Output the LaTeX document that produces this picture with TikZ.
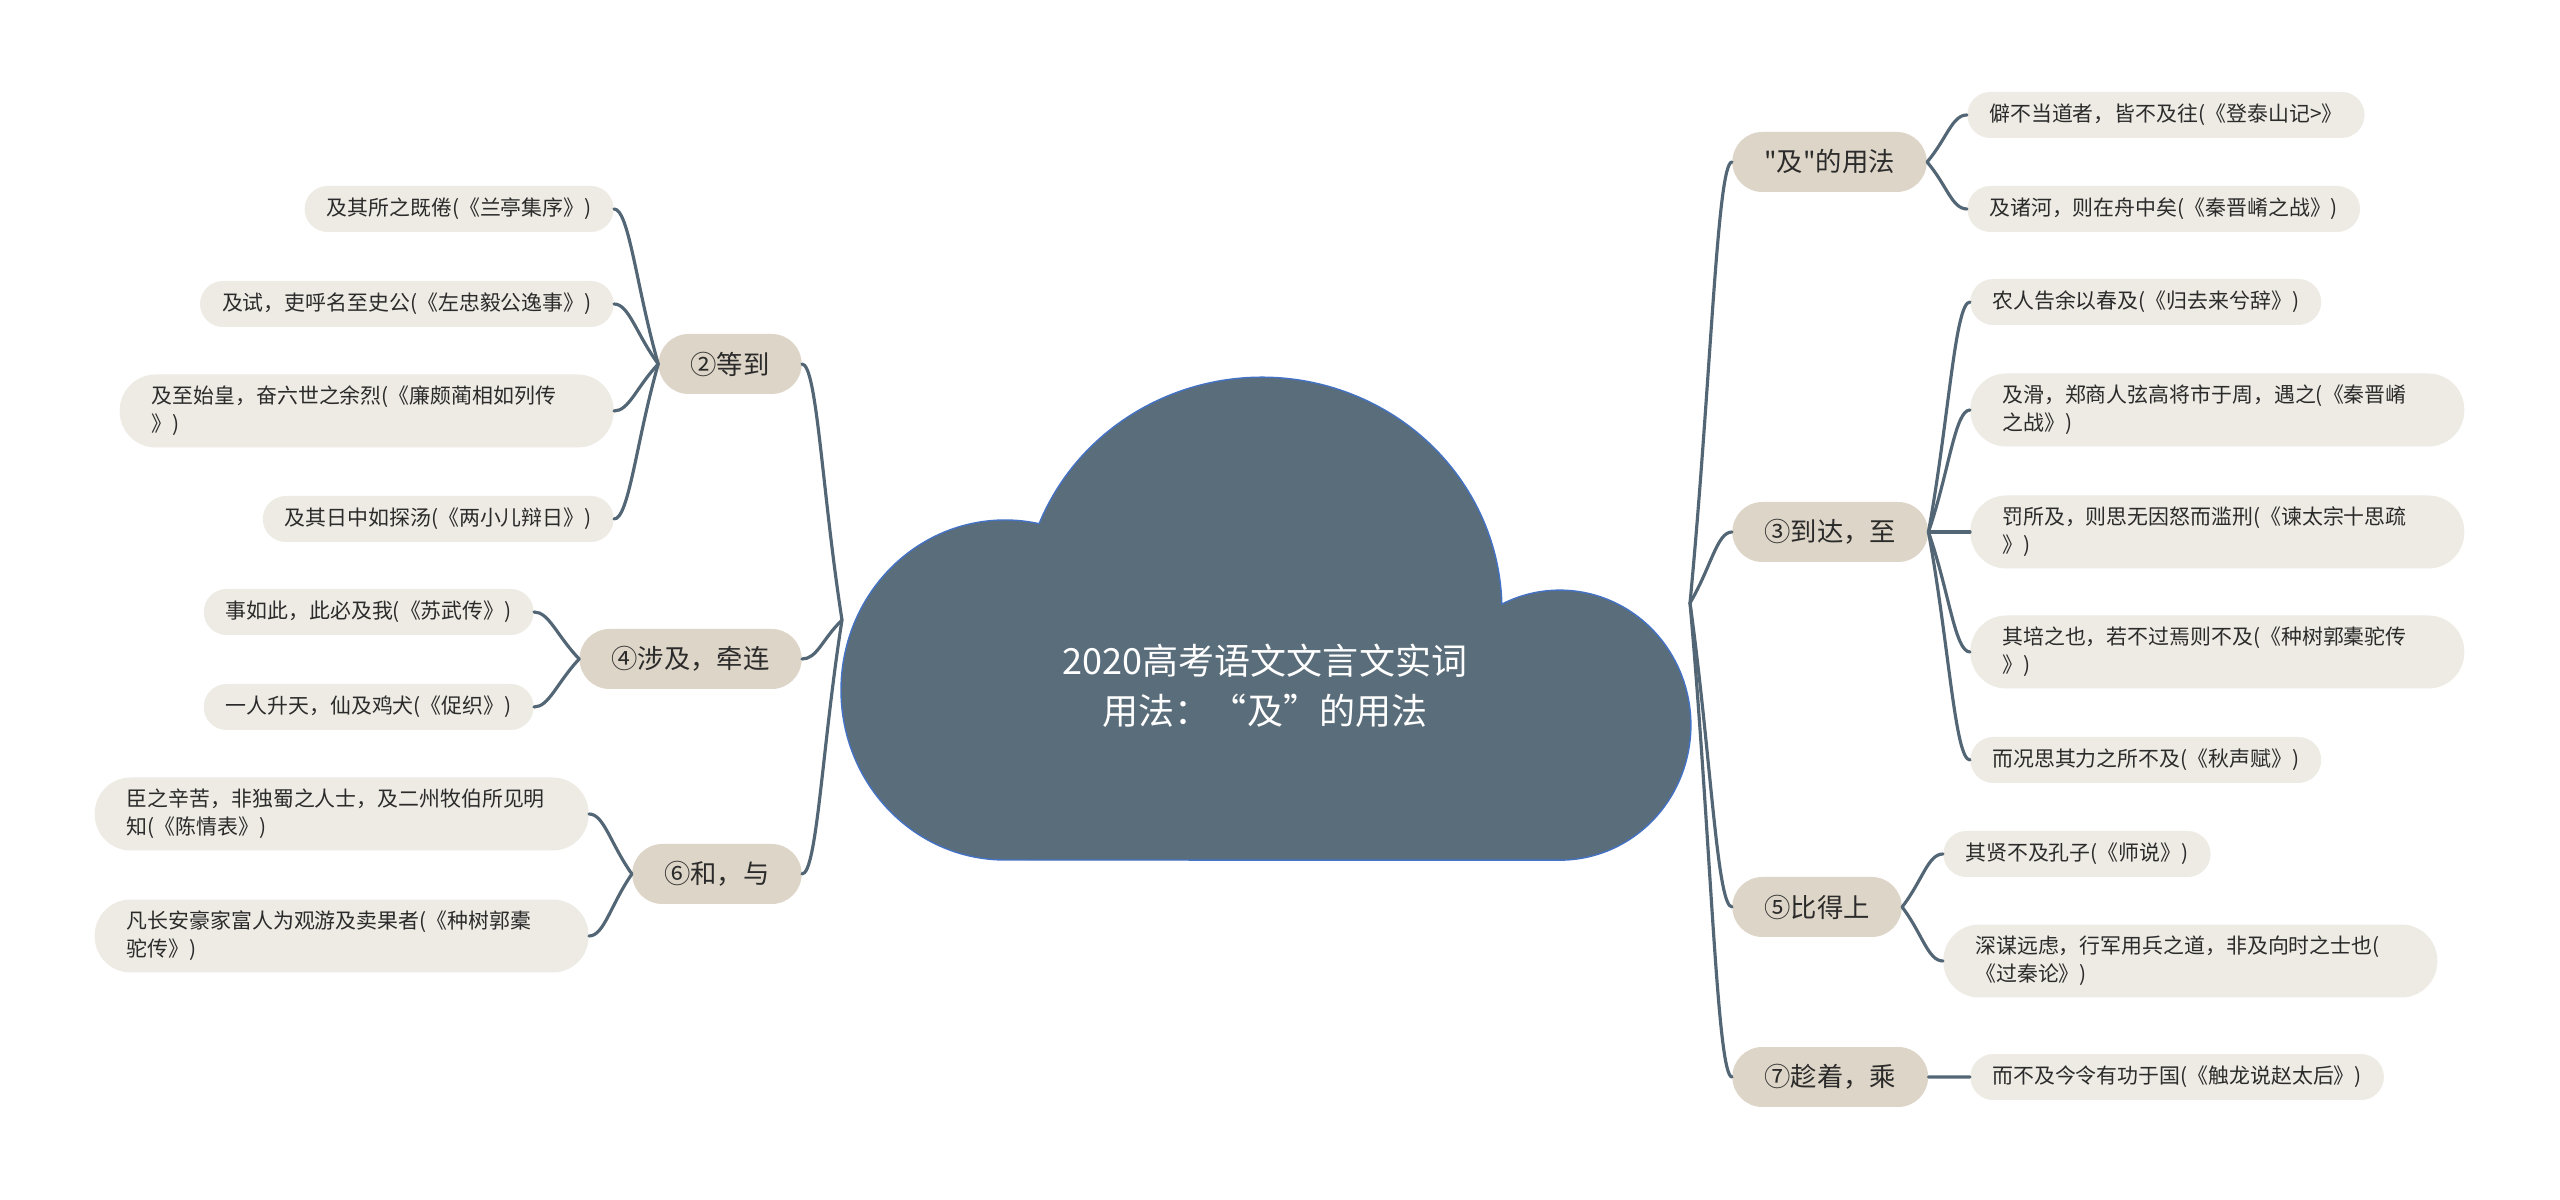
\documentclass[tikz,border=0pt]{standalone}
\usepackage{fontspec}
\setmainfont{Noto Sans CJK SC}[Ligatures=TeXOff]
\usetikzlibrary{calc}

\definecolor{slate}{HTML}{5A6D7A}
\definecolor{cloudedge}{HTML}{4472C4}
\definecolor{linkgray}{HTML}{536675}
\definecolor{branchfill}{HTML}{DDD5C7}
\definecolor{leaffill}{HTML}{EEEBE4}
\definecolor{ink}{HTML}{2B2B2B}

\begin{document}
\begin{tikzpicture}[
    x=0.02cm, y=0.02cm,
    every node/.style={text=ink},
    branch/.style={fill=branchfill, rounded corners=0.6cm, minimum height=1.2cm, inner xsep=0.64cm, font=\fontsize{15}{18}\selectfont},
    leaf/.style={fill=leaffill, rounded corners=0.46cm, minimum height=0.92cm, inner xsep=0.44cm, font=\fontsize{11.9}{16}\selectfont},
    long leaf/.style={leaf, rounded corners=0.72cm, minimum height=1.46cm, inner xsep=0.64cm, text width=8.6cm, align=left},
    wire/.style={draw=linkgray, line width=1.8pt, line cap=round},
    left link/.style={wire, to path={.. controls ($(\tikztostart)!0.5!(\tikztotarget)$) and ([xshift=0.3cm]\tikztotarget) .. (\tikztotarget)}},
    right link/.style={wire, to path={.. controls ($(\tikztostart)!0.5!(\tikztotarget)$) and ([xshift=-0.3cm]\tikztotarget) .. (\tikztotarget)}}
  ]
    \fill[white] (0,0) rectangle (2560,1200);

    % cloud made of three bumps on a flat bottom
    \filldraw[fill=slate, draw=cloudedge, line width=0.8pt]
      (1005,340) arc[start angle=270, end angle=78, x radius=164, y radius=170]
      arc[start angle=158.2, end angle=1.5, x radius=240, y radius=233]
      arc[start angle=116.3, end angle=-90, x radius=131, y radius=135] -- cycle;
    \node[font=\fontsize{20.5}{28.4}\selectfont, text=white, align=center] (root) at (1265,514) {2020高考语文文言文实词\\用法：“及”的用法};

    \coordinate (hubL) at (842,580);
    \coordinate (hubR) at (1690,597);

    % left branches
    \node[branch, anchor=east] (deng) at (802,836) {②等到};
    \node[branch, anchor=east] (she) at (802,541) {④涉及，牵连};
    \node[branch, anchor=east] (he) at (802,326) {⑥和，与};

    \node[leaf, anchor=east] (lanting) at (614,991) {及其所之既倦(《兰亭集序》)};
    \node[leaf, anchor=east] (zuo) at (614,896) {及试，吏呼名至史公(《左忠毅公逸事》)};
    \node[long leaf, anchor=east] (lian) at (614,789) {及至始皇，奋六世之余烈(《廉颇蔺相如列传\\》)};
    \node[leaf, anchor=east] (liangxiao) at (614,681) {及其日中如探汤(《两小儿辩日》)};

    \node[leaf, anchor=east] (suwu) at (534,588) {事如此，此必及我(《苏武传》)};
    \node[leaf, anchor=east] (cuzhi) at (534,493) {一人升天，仙及鸡犬(《促织》)};

    \node[long leaf, anchor=east] (chenqing) at (589,386) {臣之辛苦，非独蜀之人士，及二州牧伯所见明\\知(《陈情表》)};
    \node[long leaf, anchor=east] (guotuo) at (589,264) {凡长安豪家富人为观游及卖果者(《种树郭橐\\驼传》)};

    % right branches
    \node[branch, anchor=west] (ji) at (1732,1038) {"及"的用法};
    \node[branch, anchor=west] (dao) at (1732,668) {③到达，至};
    \node[branch, anchor=west] (bi) at (1732,293) {⑤比得上};
    \node[branch, anchor=west] (chen) at (1732,123) {⑦趁着，乘};

    \node[leaf, anchor=west] (taishan) at (1967,1085) {僻不当道者，皆不及往(《登泰山记>》};
    \node[leaf, anchor=west] (yaoA) at (1967,991) {及诸河，则在舟中矣(《秦晋崤之战》)};

    \node[leaf, anchor=west] (guiqu) at (1970,898) {农人告余以春及(《归去来兮辞》)};
    \node[long leaf, anchor=west] (yaoB) at (1970,790) {及滑，郑商人弦高将市于周，遇之(《秦晋崤\\之战》)};
    \node[long leaf, anchor=west] (shisi) at (1970,668) {罚所及，则思无因怒而滥刑(《谏太宗十思疏\\》)};
    \node[long leaf, anchor=west] (peizhi) at (1970,548) {其培之也，若不过焉则不及(《种树郭橐驼传\\》)};
    \node[leaf, anchor=west] (qiusheng) at (1970,440) {而况思其力之所不及(《秋声赋》)};

    \node[leaf, anchor=west] (shishuo) at (1943,346) {其贤不及孔子(《师说》)};
    \node[long leaf, anchor=west] (guoqin) at (1943,239) {深谋远虑，行军用兵之道，非及向时之士也(\\《过秦论》)};

    \node[leaf, anchor=west] (chulong) at (1970,123) {而不及今令有功于国(《触龙说赵太后》)};

    % hub to branches
    \draw[left link] (hubL) to (deng.east);
    \draw[left link] (hubL) to (she.east);
    \draw[left link] (hubL) to (he.east);
    \draw[right link] (hubR) to (ji.west);
    \draw[right link] (hubR) to (dao.west);
    \draw[right link] (hubR) to (bi.west);
    \draw[right link] (hubR) to (chen.west);

    % branches to leaves
    \draw[left link] (deng.west) to (lanting.east);
    \draw[left link] (deng.west) to (zuo.east);
    \draw[left link] (deng.west) to (lian.east);
    \draw[left link] (deng.west) to (liangxiao.east);
    \draw[left link] (she.west) to (suwu.east);
    \draw[left link] (she.west) to (cuzhi.east);
    \draw[left link] (he.west) to (chenqing.east);
    \draw[left link] (he.west) to (guotuo.east);

    \draw[right link] (ji.east) to (taishan.west);
    \draw[right link] (ji.east) to (yaoA.west);
    \draw[right link] (dao.east) to (guiqu.west);
    \draw[right link] (dao.east) to (yaoB.west);
    \draw[right link] (dao.east) to (shisi.west);
    \draw[right link] (dao.east) to (peizhi.west);
    \draw[right link] (dao.east) to (qiusheng.west);
    \draw[right link] (bi.east) to (shishuo.west);
    \draw[right link] (bi.east) to (guoqin.west);
    \draw[right link] (chen.east) to (chulong.west);
  \end{tikzpicture}
\end{document}
